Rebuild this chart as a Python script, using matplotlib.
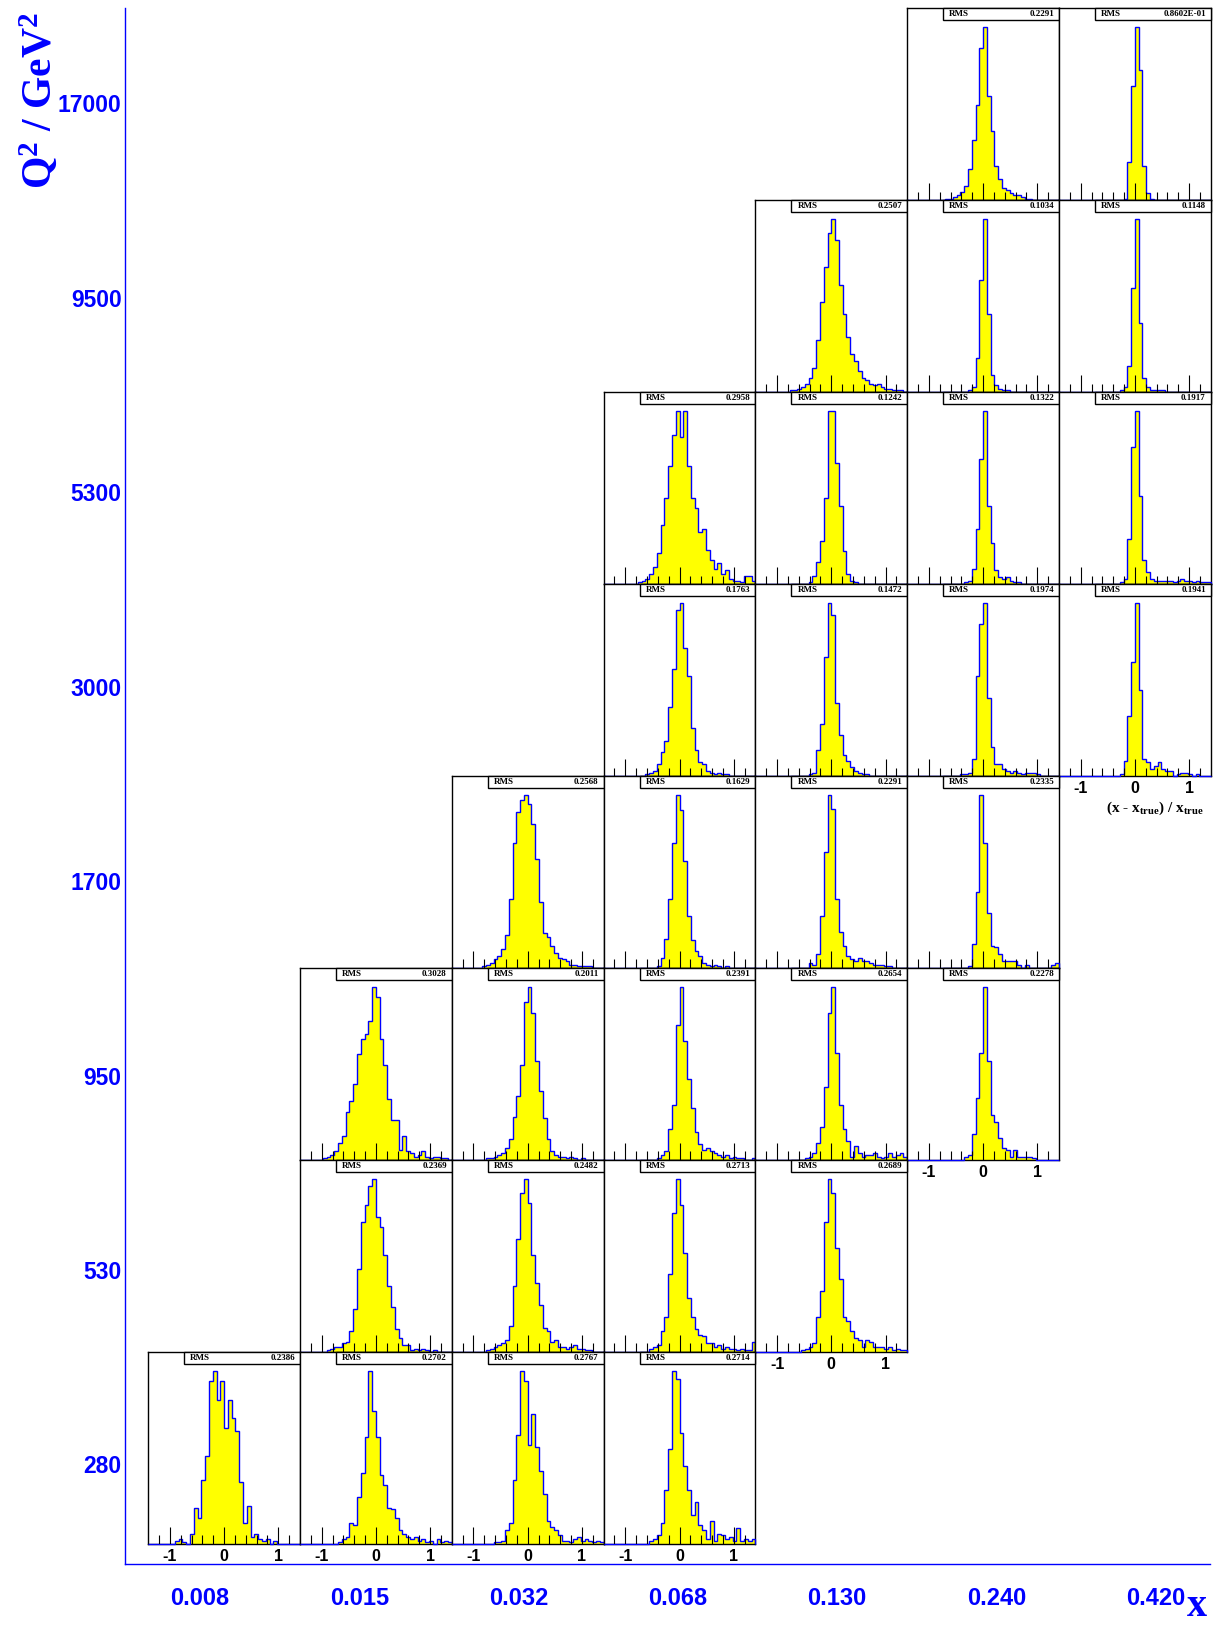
import numpy as np
import matplotlib
matplotlib.use("Agg")
import matplotlib.pyplot as plt
from matplotlib.lines import Line2D
from matplotlib.patches import Rectangle

plt.rcParams["mathtext.fontset"] = "custom"
plt.rcParams["mathtext.rm"] = "Liberation Serif:bold"
plt.rcParams["mathtext.it"] = "Liberation Serif:bold:italic"
plt.rcParams["mathtext.bf"] = "Liberation Serif:bold"

W, H, DPI = 1213, 1626, 100

# ---- bin labels ----
x_labels = ["0.008", "0.015", "0.032", "0.068", "0.130", "0.240", "0.420"]
q2_labels = ["17000", "9500", "5300", "3000", "1700", "950", "530", "280"]

# ---- resolution histograms (x - x_true)/x_true, 40 bins on [-1.4, 1.4] ----
h_17000_0240 = [0,0,0,0,0,0,0,0,0,0, 1,1,2,3,5,8,18,35,55,88, 100,60,40,20,12,7,6,4,3,3, 2,1,1,0,0,0,0,0,0,0]
h_17000_0420 = [0,0,0,0,0,0,0,0,0,0, 0,0,0,0,0,0,0,1,22,66, 100,75,20,4,1,0,0,0,0,0, 0,0,0,0,0,0,0,0,0,0]

h_9500_0130 = [0,0,0,0,0,0,0,0,0,1, 1,2,3,5,8,14,30,52,72,92, 100,88,62,45,32,22,18,12,8,7, 5,4,5,3,2,2,1,1,1,0]
h_9500_0240 = [0,0,0,0,0,0,0,0,0,0, 0,0,0,0,0,0,1,3,20,65, 100,45,10,4,2,1,1,0,0,0, 0,0,0,0,0,0,0,0,0,0]
h_9500_0420 = [0,0,0,0,0,0,0,0,0,0, 0,0,0,0,0,0,1,3,15,60, 100,40,8,3,1,1,1,1,0,0, 0,0,0,0,0,0,0,0,0,0]

h_5300_0068 = [0,0,0,0,0,0,0,0,0,1, 2,3,6,10,18,34,50,68,86,100, 85,100,68,50,44,30,32,20,14,9, 12,6,8,3,2,2,1,5,5,2]
h_5300_0130 = [0,0,0,0,0,0,0,0,0,0, 0,0,0,0,1,5,13,25,50,100, 100,70,45,19,6,2,1,0,0,0, 0,0,0,0,0,0,0,0,0,0]
h_5300_0240 = [0,0,0,0,0,0,0,0,0,0, 0,0,0,0,0,1,2,9,32,72, 100,45,24,8,4,3,4,2,1,1, 0,0,0,0,0,0,0,0,0,0]
h_5300_0420 = [0,0,0,0,0,0,0,0,0,0, 0,0,0,0,0,0,1,3,26,79, 100,51,14,7,3,2,2,2,2,2, 1,2,3,2,2,1,2,1,1,1]

h_3000_0068 = [0,0,0,0,0,0,0,0,0,0, 0,1,2,3,7,14,20,40,62,96, 100,74,58,28,15,8,7,3,2,1, 2,1,1,0,0,0,0,0,0,0]
h_3000_0130 = [0,0,0,0,0,0,0,0,0,0, 0,0,0,0,1,2,15,30,69,100, 93,42,24,12,9,5,3,2,1,1, 0,0,0,0,0,0,0,0,0,0]
h_3000_0240 = [0,0,0,0,0,0,0,0,0,0, 0,0,0,0,1,1,2,10,58,88, 100,45,17,7,7,4,3,2,3,2, 1,2,2,2,1,0,0,0,0,0]
h_3000_0420 = [0,0,0,0,0,0,0,0,0,0, 0,0,0,0,0,0,1,9,35,66, 100,50,10,8,4,6,8,4,3,3, 0,1,2,2,1,0,1,0,0,0]

h_1700_0032 = [0,0,0,0,0,0,0,0,1,2, 3,5,7,11,19,40,72,90,97,100, 95,83,63,38,20,18,13,9,6,5, 4,2,2,1,1,1,1,0,0,0]
h_1700_0068 = [0,0,0,0,0,0,0,0,0,0, 0,0,0,0,1,6,17,40,72,100, 91,62,30,16,10,7,3,2,1,2, 1,0,1,0,0,0,0,0,0,0]
h_1700_0130 = [0,0,0,0,0,0,0,0,0,0, 0,0,0,0,3,2,8,30,67,100, 92,40,21,13,7,5,4,6,4,4, 3,2,2,2,1,1,0,0,0,0]
h_1700_0240 = [0,0,0,0,0,0,0,0,0,0, 0,0,0,0,0,0,1,14,44,100, 72,32,13,12,8,4,4,4,4,2, 0,2,0,0,0,0,0,0,2,3]

h_950_0015 = [0,0,0,0,0,0,1,2,3,5, 10,14,28,34,44,61,70,73,80,100, 94,70,55,35,23,23,6,14,5,4, 2,3,5,2,1,2,2,1,1,0]
h_950_0032 = [0,0,0,0,0,0,0,0,0,1, 1,2,3,4,7,12,25,37,55,91, 100,85,57,40,24,12,5,3,2,2, 1,2,1,0,1,0,0,0,0,0]
h_950_0068 = [0,0,0,0,0,0,0,0,0,0, 0,0,0,0,1,3,5,18,32,78, 100,69,47,30,16,9,6,7,5,4, 3,2,3,1,2,1,1,0,0,1]
h_950_0130 = [0,0,0,0,0,0,0,0,0,0, 0,0,0,1,2,4,10,19,42,85, 100,62,32,18,11,2,8,4,2,3, 3,4,2,1,2,4,2,3,4,2]
h_950_0240 = [0,0,0,0,0,0,0,0,0,0, 0,0,0,0,0,2,3,15,36,62, 100,57,26,22,13,7,6,2,6,2, 2,2,2,1,0,0,0,0,0,0]

h_530_0015 = [0,0,0,0,0,0,0,1,2,3, 3,5,6,12,25,48,75,85,96,100, 78,72,56,38,26,13,8,4,4,1, 2,1,2,1,0,1,0,0,0,0]
h_530_0032 = [0,0,0,0,0,0,0,0,0,1, 2,3,4,5,7,15,38,65,92,100, 86,56,40,27,14,12,6,7,3,3, 2,3,4,2,2,1,1,0,0,0]
h_530_0068 = [0,0,0,0,0,0,0,0,0,0, 0,0,2,3,4,12,20,45,80,100, 85,57,31,20,13,10,9,5,5,3, 4,2,3,2,2,1,2,1,1,6]
h_530_0130 = [0,0,0,0,0,0,0,0,0,0, 0,0,1,2,3,5,20,35,75,100, 92,60,42,20,18,12,8,7,3,7, 6,3,3,3,2,3,1,2,1,1]

h_280_0008 = [0,0,0,0,0,0,0,2,3,1, 0,6,21,15,37,51,94,100,83,94, 67,83,73,65,36,12,22,4,6,3, 2,3,0,2,0,0,0,0,0,0]
h_280_0015 = [0,0,0,0,0,0,0,0,0,0, 1,3,4,12,11,27,41,62,100,77, 62,40,34,21,20,15,8,6,4,3, 4,2,3,1,2,0,3,1,2,1]
h_280_0032 = [0,0,0,0,0,0,0,0,0,0, 0,1,1,2,8,12,37,63,100,94, 57,75,56,42,29,13,10,8,5,2, 2,1,3,4,2,3,2,1,2,1]
h_280_0068 = [0,0,0,0,0,0,0,0,0,0, 0,0,2,3,5,12,31,55,100,95, 64,45,31,17,24,11,8,3,13,2, 6,5,3,4,2,9,2,3,2,3]

# (row from top, column, counts, RMS text)
panels = [
    (0, 5, h_17000_0240, "0.2291"), (0, 6, h_17000_0420, "0.8602E-01"),
    (1, 4, h_9500_0130, "0.2507"), (1, 5, h_9500_0240, "0.1034"), (1, 6, h_9500_0420, "0.1148"),
    (2, 3, h_5300_0068, "0.2958"), (2, 4, h_5300_0130, "0.1242"),
    (2, 5, h_5300_0240, "0.1322"), (2, 6, h_5300_0420, "0.1917"),
    (3, 3, h_3000_0068, "0.1763"), (3, 4, h_3000_0130, "0.1472"),
    (3, 5, h_3000_0240, "0.1974"), (3, 6, h_3000_0420, "0.1941"),
    (4, 2, h_1700_0032, "0.2568"), (4, 3, h_1700_0068, "0.1629"),
    (4, 4, h_1700_0130, "0.2291"), (4, 5, h_1700_0240, "0.2335"),
    (5, 1, h_950_0015, "0.3028"), (5, 2, h_950_0032, "0.2011"), (5, 3, h_950_0068, "0.2391"),
    (5, 4, h_950_0130, "0.2654"), (5, 5, h_950_0240, "0.2278"),
    (6, 1, h_530_0015, "0.2369"), (6, 2, h_530_0032, "0.2482"),
    (6, 3, h_530_0068, "0.2713"), (6, 4, h_530_0130, "0.2689"),
    (7, 0, h_280_0008, "0.2386"), (7, 1, h_280_0015, "0.2702"),
    (7, 2, h_280_0032, "0.2767"), (7, 3, h_280_0068, "0.2714"),
]

# ---- layout (pixels) ----
GRID_LEFT, PANEL_W = 148.2, 151.8
GRID_TOP, PANEL_H = 8.3, 191.96
XMIN, XMAX = -1.4, 1.4
BLUE = "#0000ff"
SANS = "Liberation Sans"
SERIF = "Liberation Serif"


def fx(px):
    return px / W


def fy(py):
    return 1 - py / H


fig = plt.figure(figsize=(W / DPI, H / DPI), dpi=DPI)

lowest_row = {}
for row, col, _, _ in panels:
    lowest_row[col] = max(lowest_row.get(col, -1), row)

minor_ticks = np.round(np.arange(-1.2, 1.2001, 0.2), 2)
major_ticks = [-1.0, 0.0, 1.0]

for row, col, counts, rms in panels:
    left = GRID_LEFT + PANEL_W * col
    top = GRID_TOP + PANEL_H * row
    ax = fig.add_axes([fx(left), fy(top + PANEL_H), PANEL_W / W, PANEL_H / H])
    counts = np.asarray(counts, dtype=float)
    edges = np.linspace(XMIN, XMAX, len(counts) + 1)
    ax.stairs(counts, edges, fill=True, facecolor="#ffff00", edgecolor="none", zorder=1)
    ax.stairs(counts, edges, color=BLUE, lw=1.0, baseline=0, zorder=3, clip_on=False)
    ax.set_xlim(XMIN, XMAX)
    ax.set_ylim(0, counts.max() * 1.108)
    ax.set_xticks([])
    ax.set_yticks([])
    for s in ax.spines.values():
        s.set_linewidth(1.0)
        s.set_color("black")
    ax.spines["bottom"].set_zorder(2)

    # ticks drawn inward from the bottom edge
    tr = ax.get_xaxis_transform()
    small = [t for t in minor_ticks if not np.isclose(np.abs(t), 1.0) and not np.isclose(t, 0.0)]
    ax.vlines(small, 0, 0.045, transform=tr, color="black", lw=0.8, zorder=4)
    ax.vlines(major_ticks, 0, 0.09, transform=tr, color="black", lw=0.8, zorder=4)

    # statistics box
    bh = 12.0 / PANEL_H
    bx = 0.237
    ax.add_patch(Rectangle((bx, 1 - bh), 1 - bx, bh, transform=ax.transAxes,
                           facecolor="white", edgecolor="black", lw=1.0,
                           zorder=6, clip_on=False))
    ax.text(bx + 6.0 / PANEL_W, 1 - bh / 2, "RMS", transform=ax.transAxes,
            ha="left", va="center", fontsize=6.5, fontfamily=SERIF,
            fontweight="bold", zorder=7)
    ax.text(1 - 5.0 / PANEL_W, 1 - bh / 2, rms, transform=ax.transAxes,
            ha="right", va="center", fontsize=6.5, fontfamily=SERIF,
            fontweight="bold", zorder=7)

    if lowest_row[col] == row:
        for t, lab in zip(major_ticks, ["-1", "0", "1"]):
            ax.text(t, -12.5 / PANEL_H, lab, transform=tr, ha="center", va="center",
                    fontsize=11.5, fontfamily=SANS, fontweight="bold", clip_on=False)

# ---- outer frame ----
fig.add_artist(Line2D([fx(125), fx(125)], [fy(8.3), fy(1564)], color=BLUE, lw=1.0))
fig.add_artist(Line2D([fx(125), fx(1210)], [fy(1564), fy(1564)], color=BLUE, lw=1.0))

# Q2 bin labels
for i, lab in enumerate(q2_labels):
    fig.text(fx(121.5), fy(106 + 194.4 * i), lab, ha="right", va="center",
             fontsize=16.5, fontfamily=SANS, fontweight="bold", color=BLUE)

# x bin labels
for j, lab in enumerate(x_labels):
    fig.text(fx(200 + 159.3 * j), fy(1598), lab, ha="center", va="center",
             fontsize=17, fontfamily=SANS, fontweight="bold", color=BLUE)

fig.text(fx(40), fy(100), r"Q$^{2}$ / GeV$^{2}$", rotation=90, ha="center", va="center",
         fontsize=30, fontfamily=SERIF, fontweight="bold", color=BLUE)
fig.text(fx(1197), fy(1625), "x", ha="center", va="bottom",
         fontsize=29, fontfamily=SERIF, fontweight="bold", color=BLUE)
fig.text(fx(1155), fy(808), r"(x - x$_{\mathrm{true}}$) / x$_{\mathrm{true}}$",
         ha="center", va="center", fontsize=11, fontfamily=SERIF, fontweight="bold")

fig.savefig("out.png", dpi=DPI, facecolor="white")
